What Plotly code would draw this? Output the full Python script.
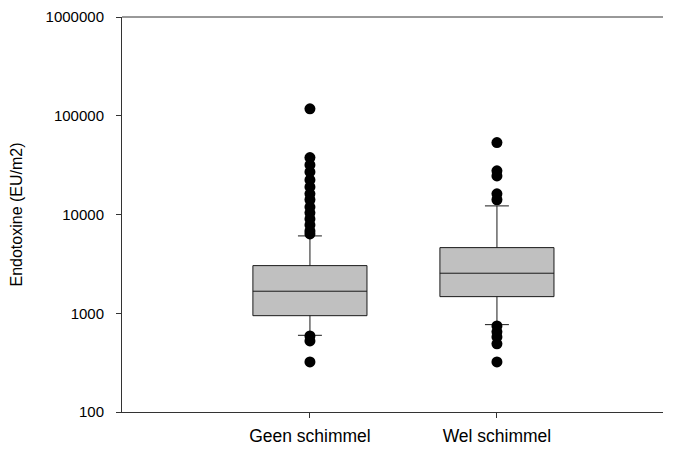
import plotly.graph_objects as go

categories = ["Geen schimmel", "Wel schimmel"]
q1 = [945, 1473]
median = [1671, 2543]
q3 = [3036, 4620]
lower_fence = [598, 767]
upper_fence = [6070, 12220]

outliers_geen = [117500, 37700, 31800, 27000, 22400, 19000, 16200, 14100, 11900,
                 10400, 9020, 7850, 6820, 6360, 589, 524, 321]
outliers_wel = [53500, 27700, 24600, 16200, 14100, 743, 648, 576, 490, 321]

y_ticks = [100, 1000, 10000, 100000, 1000000]
y_ticktext = ["100", "1000", "10000", "100000", "1000000"]

pos = [0, 1]

fig = go.Figure()
fig.add_trace(go.Box(
    x=pos, q1=q1, median=median, q3=q3,
    lowerfence=lower_fence, upperfence=upper_fence,
    boxpoints=False, width=0.61, whiskerwidth=0.21,
    fillcolor="#c0c0c0", line=dict(color="#1a1a1a", width=1),
    showlegend=False, hoverinfo="skip"))

for p, outs in zip(pos, [outliers_geen, outliers_wel]):
    fig.add_trace(go.Scatter(
        x=[p] * len(outs), y=outs, mode="markers",
        marker=dict(color="black", size=11, line=dict(width=0)),
        showlegend=False))

fig.update_layout(
    width=670, height=441,
    margin=dict(l=114, r=15, t=9, b=37),
    plot_bgcolor="white", paper_bgcolor="white",
    font=dict(family="Liberation Sans, Arial, sans-serif", color="black"),
    shapes=[dict(type="line", xref="paper", yref="paper", x0=0, x1=1, y0=1, y1=1,
                 line=dict(color="#333333", width=1))],
)
fig.update_xaxes(
    range=[-1.005, 1.888], tickvals=pos, ticktext=categories,
    showline=True, linecolor="#333333", linewidth=1,
    ticks="outside", ticklen=5, tickcolor="#333333", automargin=False,
    ticklabelstandoff=3,
    showgrid=False, zeroline=False, tickfont=dict(size=17.5))
fig.update_yaxes(
    type="log", range=[2, 6], tickvals=y_ticks, ticktext=y_ticktext,
    showline=True, linecolor="#333333", linewidth=1, automargin=False,
    ticks="outside", ticklen=5, tickcolor="#333333", ticklabelstandoff=9,
    showgrid=False, zeroline=False, tickfont=dict(size=15),
    title=dict(text="Endotoxine (EU/m2)", font=dict(size=16), standoff=24))

fig.write_html("out.html")
